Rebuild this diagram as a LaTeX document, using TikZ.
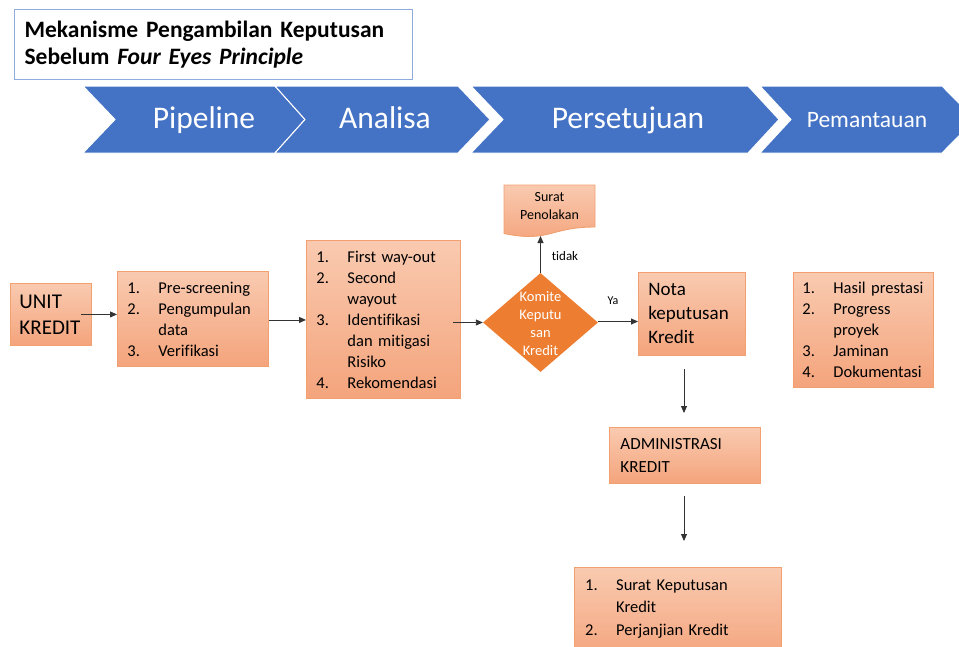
\documentclass[tikz,border=0pt]{standalone}
\usepackage{fontspec}
\setmainfont{Carlito}[Ligatures=NoCommon]
\usetikzlibrary{shapes.geometric,arrows.meta,calc}
\definecolor{chev}{HTML}{4472C4}
\definecolor{dorange}{HTML}{ED7D31}
\definecolor{boxtop}{HTML}{F9CAB0}
\definecolor{boxbot}{HTML}{F4A47C}
\definecolor{boxline}{HTML}{F2A070}
\definecolor{titleline}{HTML}{8FAADC}
\newcommand{\li}[2]{\makebox[31pt][l]{#1}#2}
\newcommand{\lc}[1]{\makebox[31pt][l]{}#1}
\newcommand{\fsz}[2]{\fontsize{#1}{#2}\selectfont}
\begin{document}
\begin{tikzpicture}[x=1pt,y=-1pt,
  box/.style={draw=boxline, line width=0.9pt, top color=boxtop, bottom color=boxbot,
    anchor=north west, inner ysep=0pt, align=left},
  arr/.style={draw=black!80, line width=0.9pt, -{Triangle[length=7pt,width=6pt]}},
  chevron/.style={fill=chev, draw=white, line width=1pt},
  chevtext/.style={text=white, inner sep=0pt, anchor=base},
  txt/.style={inner sep=0pt, align=left}]
\useasboundingbox (0,0) rectangle (959,646);
\clip (0,0) rectangle (959,646);

% title
\node[draw=titleline, line width=1.2pt, anchor=north west, minimum width=398pt,
  minimum height=70pt, text width=378pt, inner xsep=10pt, inner ysep=0pt, align=left,
  font=\bfseries\fsz{23.5}{28}] (title) at (14,9)
  {Mekanisme Pengambilan Keputusan\\Sebelum \textit{Four Eyes Principle}};

% chevrons
\path[chevron] (83,86) -- (275,86) -- (305,119.5) -- (275,153) -- (83,153) -- (115,119.5) -- cycle;
\path[chevron] (275,86) -- (458,86) -- (490,119.5) -- (458,153) -- (275,153) -- (305,119.5) -- cycle;
\path[chevron] (471,86) -- (748,86) -- (779,119.5) -- (748,153) -- (471,153) -- (503,119.5) -- cycle;
\path[chevron] (760,86) -- (942,86) -- (975,119.5) -- (942,153) -- (760,153) -- (791,119.5) -- cycle;
\node[chevtext, font=\fsz{31.5}{36}] (c1) at (204,128) {Pipeline};
\node[chevtext, font=\fsz{31.5}{36}] (c2) at (385,128) {Analisa};
\node[chevtext, font=\fsz{31.5}{36}] (c3) at (628,128) {Persetujuan};
\node[chevtext, font=\fsz{23.5}{28}] (c4) at (867,127) {Pemantauan};

% boxes
\node[box, minimum width=81pt, minimum height=62pt, inner xsep=9pt, text width=63pt,
  font=\fsz{21}{26}] (unit) at (10,283) {UNIT\\KREDIT};
\node[box, minimum width=151pt, minimum height=95pt, inner xsep=10pt, text width=131pt,
  font=\fsz{16.5}{21}] (b2) at (117,271)
  {\li{1.}{Pre-screening}\\\li{2.}{Pengumpulan}\\\lc{data}\\\li{3.}{Verifikasi}};
\node[box, minimum width=154pt, minimum height=158pt, inner xsep=10pt, text width=134pt,
  font=\fsz{16.5}{21}] (b3) at (306,240)
  {\li{1.}{First way-out}\\\li{2.}{Second}\\\lc{wayout}\\\li{3.}{Identifikasi}\\\lc{dan mitigasi}\\\lc{Risiko}\\\li{4.}{Rekomendasi}};
\node[box, minimum width=107pt, minimum height=83pt, inner xsep=10pt, text width=87pt,
  font=\fsz{19}{24}] (nota) at (638,272) {Nota\\keputusan\\Kredit};
\node[box, minimum width=151pt, minimum height=56pt, inner xsep=11pt, text width=129pt,
  font=\fsz{17}{23}] (adm) at (609,427) {ADMINISTRASI\\KREDIT};
\node[box, minimum width=140pt, minimum height=115pt, inner xsep=9pt, text width=122pt,
  font=\fsz{16.5}{21}] (mon) at (793,272)
  {\li{1.}{Hasil prestasi}\\\li{2.}{Progress}\\\lc{proyek}\\\li{3.}{Jaminan}\\\li{4.}{Dokumentasi}};
\node[box, minimum width=207pt, minimum height=93pt] (bot) at (574,567) {};
\node[txt, anchor=north west, minimum height=83pt, inner xsep=11pt, text width=185pt,
  font=\fsz{16.5}{22.5}] (bottxt) at (574,567)
  {\li{1.}{Surat Keputusan}\\\lc{Kredit}\\\li{2.}{Perjanjian Kredit}};

% surat penolakan (document shape)
\shade[top color=boxtop, bottom color=boxbot, draw=boxline, line width=0.9pt]
  (504,185) -- (595,185) -- (595,227) .. controls (549.5,227) and (549.5,243) .. (504,233.5) -- cycle;
\node[txt, align=center, font=\fsz{14}{18}] (sur) at (549.5,206) {Surat\\Penolakan};

% diamond
\node[diamond, fill=dorange, minimum width=115pt, minimum height=99pt, inner sep=0pt] (dia) at (540.5,322.5) {};
\node[txt, align=center, text=white, font=\fsz{14.5}{18}] (diat) at (540.5,323.5) {Komite\\Keputu\\san\\Kredit};

% labels
\node[txt, font=\fsz{13}{15}] (tidak) at (565,256) {tidak};
\node[txt, font=\fsz{12}{14}] (ya) at (613,301) {Ya};

% coordinates for free arrow ends
\coordinate (sb) at (540.5,236);
\coordinate (n1) at (684,369);
\coordinate (a1) at (684,413);
\coordinate (a2) at (684,496);
\coordinate (bt) at (684,541);

% connectors
\draw[arr] ([xshift=-11pt]unit.east) -- (unit.east -| b2.west);
\draw[arr] ([yshift=-1pt]b2.east) -- ([yshift=-1pt]b2.east -| b3.west);
\draw[arr] ([xshift=-8pt]b3.east |- dia.west) -- (dia.west);
\draw[arr] (dia.north) -- (sb);
\draw[arr] ([yshift=1pt]dia.east) -- ([yshift=1pt]dia.east -| nota.west);
\draw[arr] (n1) -- (a1);
\draw[arr] (a2) -- (bt);
\end{tikzpicture}
\end{document}
